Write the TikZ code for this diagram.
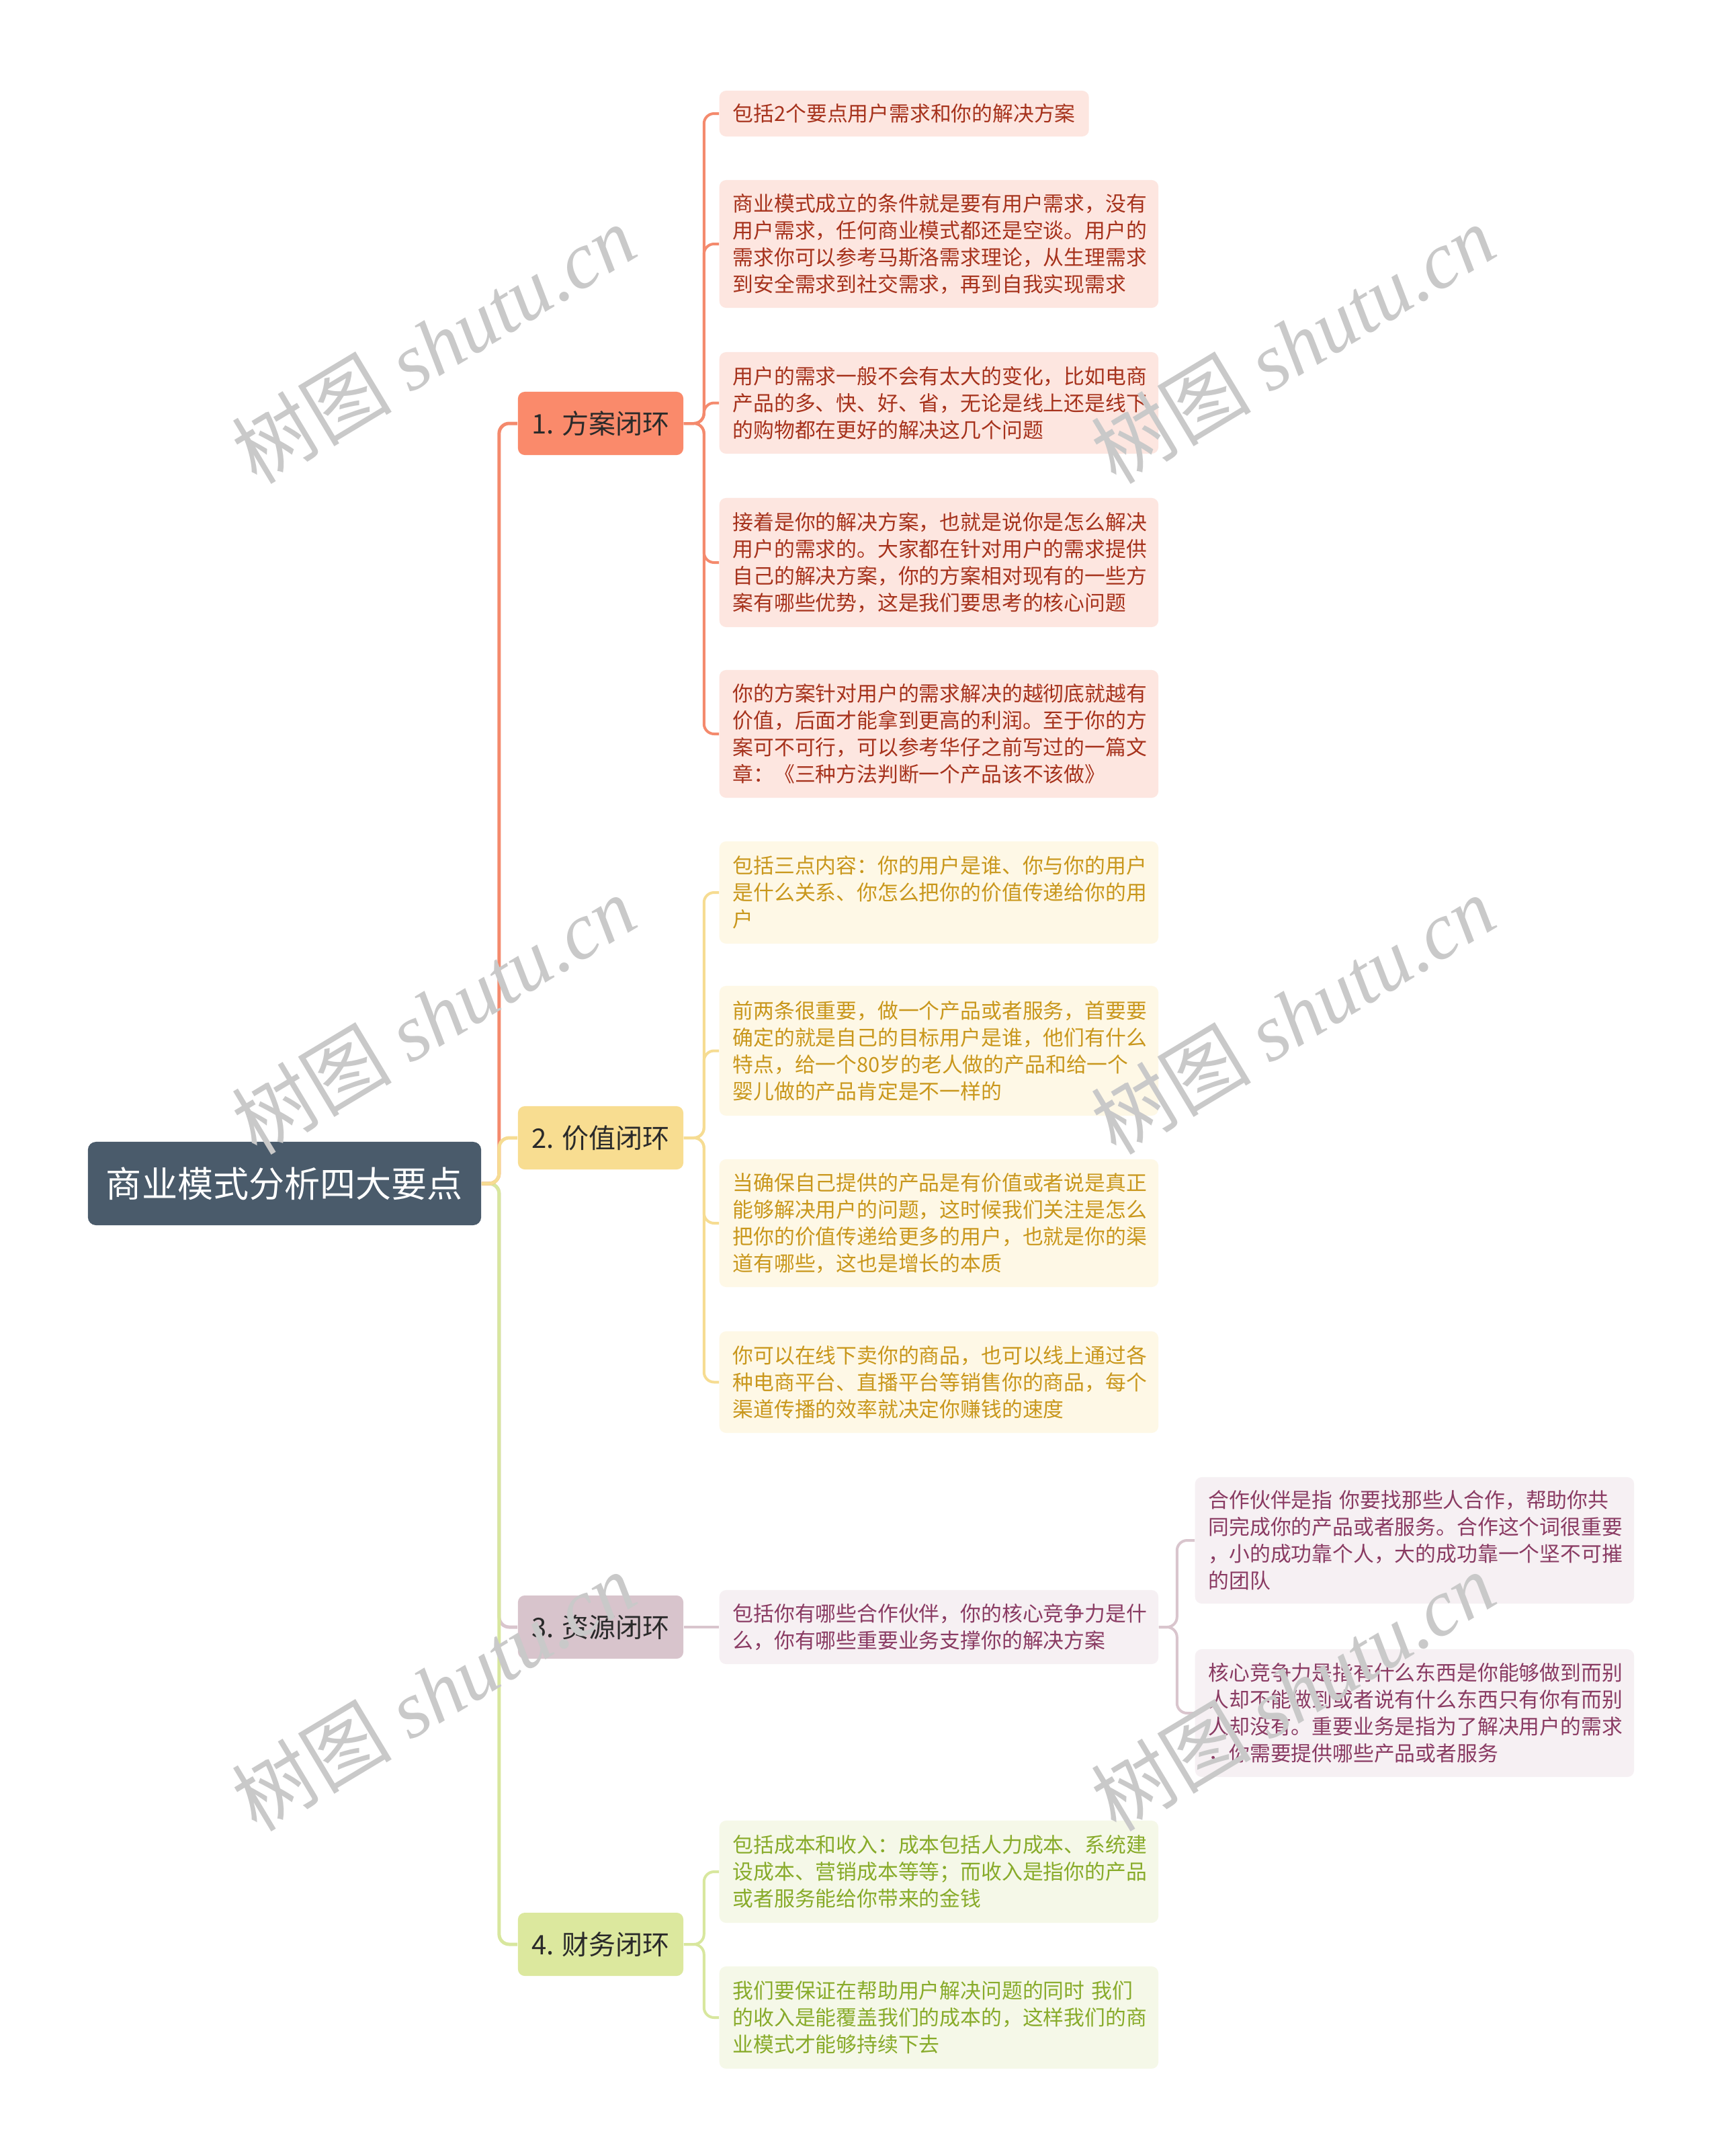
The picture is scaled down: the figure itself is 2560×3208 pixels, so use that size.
\documentclass[tikz,border=0pt]{standalone}
\usepackage{fontspec}
\setmainfont{Noto Sans CJK SC}
\newfontfamily\wmserif{Liberation Serif}
\definecolor{rootfill}{HTML}{4A5B6B}
\definecolor{nfa}{HTML}{FA8A6B}
\definecolor{nfb}{HTML}{F8DD91}
\definecolor{nfc}{HTML}{D8C4CC}
\definecolor{nfd}{HTML}{DCE89E}
\definecolor{lna}{HTML}{F48A6D}
\definecolor{lnb}{HTML}{F6DC92}
\definecolor{lnc}{HTML}{D9C5CD}
\definecolor{lnd}{HTML}{D8E79E}
\definecolor{bfa}{HTML}{FDE6E0}
\definecolor{bfb}{HTML}{FEF8E6}
\definecolor{bfc}{HTML}{F6F0F3}
\definecolor{bfd}{HTML}{F5F8E8}
\definecolor{txa}{HTML}{A6321C}
\definecolor{txb}{HTML}{C9971C}
\definecolor{txc}{HTML}{8A3B63}
\definecolor{txd}{HTML}{88AB2A}
\definecolor{txdark}{HTML}{2A2A2A}
\tikzset{
  rootnode/.style={fill=rootfill, text=white, rounded corners=0.12cm, minimum width=5.85cm, minimum height=1.24cm, inner sep=0pt, font=\fontsize{15.1pt}{18pt}\selectfont},
  lone/.style={rounded corners=0.1cm, minimum width=2.46cm, minimum height=0.94cm, inner sep=0pt, text=txdark, font=\fontsize{11.4pt}{14pt}\selectfont},
  ltwo/.style={rounded corners=0.1cm, inner xsep=0.2cm, inner ysep=0pt, text width=6.13cm, align=left, anchor=west, font=\fontsize{8.76pt}{11.38pt}\selectfont},
  ltwoshort/.style={rounded corners=0.1cm, inner xsep=0.2cm, inner ysep=0pt, align=left, anchor=west, font=\fontsize{8.76pt}{11.38pt}\selectfont},
  bra/.style={fill=bfa, text=txa},
  brb/.style={fill=bfb, text=txb},
  brc/.style={fill=bfc, text=txc},
  brd/.style={fill=bfd, text=txd},
  trunk/.style={line width=0.05cm, rounded corners=0.15cm},
  twig/.style={line width=0.04cm, rounded corners=0.15cm},
  wm/.style={text=black!21, rotate=31, font=\fontsize{34pt}{40pt}\selectfont, inner sep=0pt}
}
\begin{document}
\begin{tikzpicture}[x=0.01cm,y=-0.01cm]
\useasboundingbox (0,0) rectangle (2560,3208);
\fill[white] (0,0) rectangle (2560,3208);

% root and level-1 nodes
\node[rootnode] (root) at (423.5,1761) {商业模式分析四大要点};
\node[lone, fill=nfa] (n1) at (894,630) {1. 方案闭环};
\node[lone, fill=nfb] (n2) at (894,1693) {2. 价值闭环};
\node[lone, fill=nfc] (n3) at (894,2421) {3. 资源闭环};
\node[lone, fill=nfd] (n4) at (894,2893) {4. 财务闭环};

% level-2 nodes, branch 1
\node[ltwoshort, bra, minimum height=0.68cm] (a1) at (1070,169) {包括2个要点用户需求和你的解决方案};
\node[ltwo, bra, minimum height=1.90cm] (a2) at (1070,363) {商业模式成立的条件就是要有用户需求，没有\\用户需求，任何商业模式都还是空谈。用户的\\需求你可以参考马斯洛需求理论，从生理需求\\到安全需求到社交需求，再到自我实现需求};
\node[ltwo, bra, minimum height=1.51cm] (a3) at (1070,599.5) {用户的需求一般不会有太大的变化，比如电商\\产品的多、快、好、省，无论是线上还是线下\\的购物都在更好的解决这几个问题};
\node[ltwo, bra, minimum height=1.92cm] (a4) at (1070,837) {接着是你的解决方案，也就是说你是怎么解决\\用户的需求的。大家都在针对用户的需求提供\\自己的解决方案，你的方案相对现有的一些方\\案有哪些优势，这是我们要思考的核心问题};
\node[ltwo, bra, minimum height=1.90cm] (a5) at (1070,1092) {你的方案针对用户的需求解决的越彻底就越有\\价值，后面才能拿到更高的利润。至于你的方\\案可不可行，可以参考华仔之前写过的一篇文\\章：《三种方法判断一个产品该不该做》};

% branch 2
\node[ltwo, brb, minimum height=1.52cm] (b1) at (1070,1328) {包括三点内容：你的用户是谁、你与你的用户\\是什么关系、你怎么把你的价值传递给你的用\\户};
\node[ltwo, brb, minimum height=1.93cm] (b2) at (1070,1563.5) {前两条很重要，做一个产品或者服务，首要要\\确定的就是自己的目标用户是谁，他们有什么\\特点，给一个80岁的老人做的产品和给一个\\婴儿做的产品肯定是不一样的};
\node[ltwo, brb, minimum height=1.90cm] (b3) at (1070,1820) {当确保自己提供的产品是有价值或者说是真正\\能够解决用户的问题，这时候我们关注是怎么\\把你的价值传递给更多的用户，也就是你的渠\\道有哪些，这也是增长的本质};
\node[ltwo, brb, minimum height=1.51cm] (b4) at (1070,2056.5) {你可以在线下卖你的商品，也可以线上通过各\\种电商平台、直播平台等销售你的商品，每个\\渠道传播的效率就决定你赚钱的速度};

% branch 3
\node[ltwo, brc, minimum height=1.10cm] (c1) at (1070,2421) {包括你有哪些合作伙伴，你的核心竞争力是什\\么，你有哪些重要业务支撑你的解决方案};
\node[ltwo, brc, minimum height=1.88cm] (c1a) at (1778,2292) {合作伙伴是指 你要找那些人合作，帮助你共\\同完成你的产品或者服务。合作这个词很重要\\，小的成功靠个人，大的成功靠一个坚不可摧\\的团队};
\node[ltwo, brc, minimum height=1.90cm] (c1b) at (1778,2549) {核心竞争力是指有什么东西是你能够做到而别\\人却不能做到或者说有什么东西只有你有而别\\人却没有。重要业务是指为了解决用户的需求\\，你需要提供哪些产品或者服务};

% branch 4
\node[ltwo, brd, minimum height=1.52cm] (d1) at (1070,2785) {包括成本和收入：成本包括人力成本、系统建\\设成本、营销成本等等；而收入是指你的产品\\或者服务能给你带来的金钱};
\node[ltwo, brd, minimum height=1.52cm] (d2) at (1070,3002) {我们要保证在帮助用户解决问题的同时 我们\\的收入是能覆盖我们的成本的，这样我们的商\\业模式才能够持续下去};

% root to level 1
\draw[trunk, lnc] (root.east) -- ++(26,0) |- (n3.west);
\draw[trunk, lnd] (root.east) -- ++(26,0) |- (n4.west);
\draw[trunk, lna] (root.east) -- ++(26,0) |- (n1.west);
\draw[trunk, lnb] (root.east) -- ++(26,0) |- (n2.west);

% level 1 to level 2
\foreach \t in {a1,a2,a3,a4,a5}
  \draw[twig, lna] (n1.east) -- ++(30,0) |- (\t.west);
\foreach \t in {b1,b2,b3,b4}
  \draw[twig, lnb] (n2.east) -- ++(30,0) |- (\t.west);
\draw[twig, lnc] (n3.east) -- (c1.west);
\foreach \t in {c1a,c1b}
  \draw[twig, lnc] (c1.east) -- ++(27,0) |- (\t.west);
\foreach \t in {d1,d2}
  \draw[twig, lnd] (n4.east) -- ++(30,0) |- (\t.west);

% watermarks
\node[wm] (w1) at (645,512) {树图 {\wmserif\itshape shutu.cn}};
\node[wm] (w2) at (1924,512) {树图 {\wmserif\itshape shutu.cn}};
\node[wm] (w3) at (645,1510) {树图 {\wmserif\itshape shutu.cn}};
\node[wm] (w4) at (1924,1510) {树图 {\wmserif\itshape shutu.cn}};
\node[wm] (w5) at (645,2517) {树图 {\wmserif\itshape shutu.cn}};
\node[wm] (w6) at (1924,2517) {树图 {\wmserif\itshape shutu.cn}};
\end{tikzpicture}
\end{document}
